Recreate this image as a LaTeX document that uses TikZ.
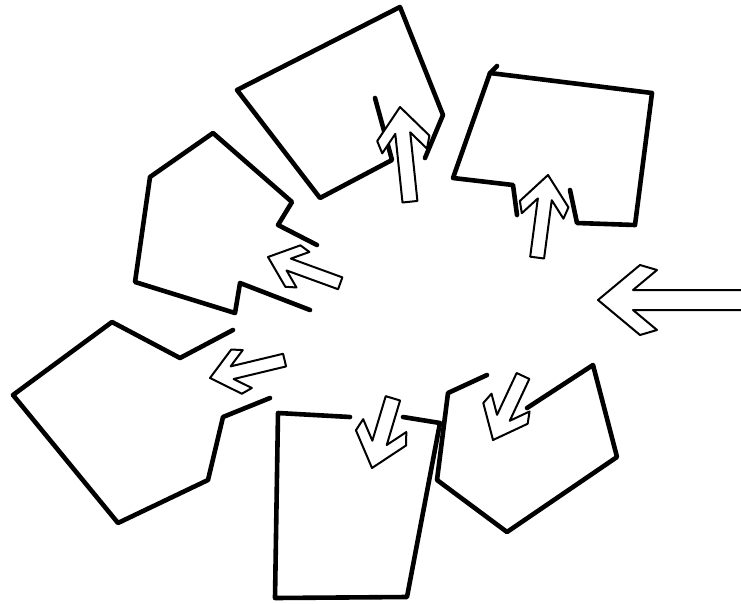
\documentclass[tikz,border=0pt]{standalone}
\usepackage{tikz}
\usetikzlibrary{calc}

\tikzset{
  wall/.style={line width=4.6pt, line cap=round, line join=round},
  arrowline/.style={line width=2pt, line join=round, fill=white}
}
% hollow arrow: #1 tip, #2 angle, #3 scale, #4 length (local units)
\newcommand{\hollowarrow}[4]{%
  \begin{scope}[shift={#1}, rotate=#2, scale=#3]
    \draw[arrowline] (0,0) -- (-42,35) -- (-59,30) -- (-35,10) -- (-#4,10)
      -- (-#4,-10) -- (-35,-10) -- (-59,-30) -- (-42,-35) -- cycle;
  \end{scope}}

\begin{document}
\begin{tikzpicture}[x=1pt, y=-1pt]
  \useasboundingbox (0,0) rectangle (741,603);
  % top room
  \draw[wall] (375,98) -- (392,160) -- (320,198) -- (237,90) -- (400,7)
    -- (443,115) -- (425,158);
  % top right room
  \draw[wall] (517,215) -- (513,185) -- (453,178) -- (490,73) -- (652,93)
    -- (635,225) -- (577,223) -- (570,190);
  \draw[wall] (490,73) -- (497,66);
  % left room
  \draw[wall] (317,245) -- (278,225) -- (292,202) -- (213,133) -- (150,177)
    -- (135,282) -- (235,313) -- (240,283) -- (310,310);
  % lower left room
  \draw[wall] (233,330) -- (180,358) -- (112,322) -- (13,395) -- (118,523)
    -- (208,480) -- (223,417) -- (270,398);
  % bottom room
  \draw[wall] (350,417) -- (278,413) -- (275,598) -- (407,597) -- (440,423)
    -- (403,417);
  % bottom right room
  \draw[wall] (487,375) -- (448,393) -- (437,480) -- (507,532) -- (617,457)
    -- (593,365) -- (527,408);
  % arrows
  \hollowarrow{(400,107)}{96}{0.75}{127}
  \hollowarrow{(548,175)}{82.5}{0.7}{119}
  \hollowarrow{(268,257)}{160}{0.63}{122}
  \hollowarrow{(210,378)}{193.5}{0.65}{118}
  \hollowarrow{(372,468)}{253.3}{0.75}{97}
  \hollowarrow{(493,440)}{244.9}{0.7}{101}
  \hollowarrow{(598,300)}{180}{1}{150}
\end{tikzpicture}
\end{document}
